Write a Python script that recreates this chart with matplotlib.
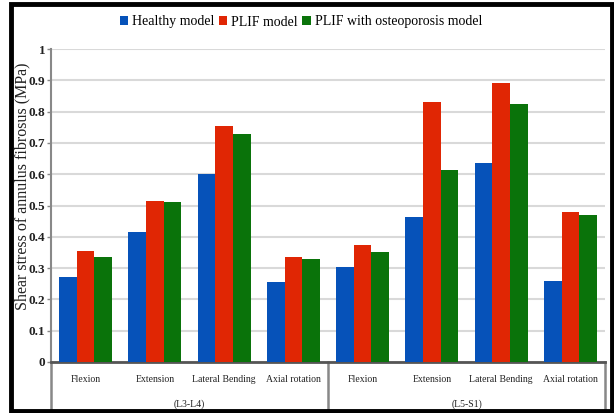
import matplotlib
matplotlib.use("Agg")
import matplotlib.pyplot as plt
from matplotlib.patches import Patch, Rectangle
import numpy as np

categories = ["Flexion", "Extension", "Lateral Bending", "Axial rotation",
              "Flexion", "Extension", "Lateral Bending", "Axial rotation"]
groups = ["(L3-L4)", "(L5-S1)"]
series_names = ["Healthy model", "PLIF model", "PLIF with osteoporosis model"]
healthy = [0.27, 0.415, 0.600, 0.255, 0.305, 0.462, 0.635, 0.260]
plif = [0.355, 0.515, 0.755, 0.335, 0.375, 0.830, 0.890, 0.478]
plif_osteo = [0.335, 0.510, 0.730, 0.328, 0.353, 0.615, 0.825, 0.470]
colors = ["#0652b9", "#e02604", "#0a730a"]
yticks = [0, 0.1, 0.2, 0.3, 0.4, 0.5, 0.6, 0.7, 0.8, 0.9, 1]
ytick_labels = ["0", "0.1", "0.2", "0.3", "0.4", "0.5", "0.6", "0.7", "0.8", "0.9", "1"]

plt.rcParams['font.family'] = ['Liberation Serif', 'DejaVu Serif']

W, H = 614, 413
fig = plt.figure(figsize=(W / 100, H / 100), dpi=100)
ax = fig.add_axes([51 / W, (H - 362) / H, (605 - 51) / W, (362 - 49) / H])

x = np.arange(len(categories))
bw = 0.256
for i, (vals, c) in enumerate(zip([healthy, plif, plif_osteo], colors)):
    ax.bar(x + (i - 1) * bw, vals, width=bw, color=c, edgecolor='none', zorder=3)

ax.set_xlim(-0.5, len(categories) - 0.5)
ax.set_ylim(0, 1)
ax.set_yticks(yticks)
ax.set_yticklabels(ytick_labels, fontsize=9.5, fontweight='bold', color='#222222')
ax.yaxis.grid(True, color='#d9d9d9', linewidth=1.5, zorder=0)
ax.set_xticks(x)
ax.set_xticklabels(categories, fontsize=7, color='#222222')
ax.tick_params(axis='x', length=0, pad=9)
ax.tick_params(axis='y', length=3, width=1, color='#888888', pad=1)

for s in ['top', 'right']:
    ax.spines[s].set_visible(False)
ax.spines['left'].set_color('#888888')
ax.spines['left'].set_linewidth(1.5)
ax.spines['bottom'].set_color('#555555')
ax.spines['bottom'].set_linewidth(2)

ax.set_ylabel("Shear stress of annulus fibrosus (MPa)", fontsize=11.5, color='#222222')
ax.yaxis.set_label_coords(-0.038, 0.562)

# separators and group labels
trans = ax.get_xaxis_transform()
for xs in [-0.5, 3.5, 7.5]:
    ax.plot([xs, xs], [0, -0.155], transform=trans, color='#888888', lw=1.8, clip_on=False)
for gi, g in enumerate(groups):
    ax.text(gi * 4 + 1.5, -0.135, g, transform=trans, ha='center', va='center',
            fontsize=7, color='#222222')

handles = [Patch(facecolor=c, edgecolor='none') for c in colors]
fig.legend(handles, series_names, loc='center', bbox_to_anchor=(301 / W, 1 - 22 / H),
           ncol=3, frameon=False, fontsize=10, handlelength=0.6, handleheight=0.6,
           handletextpad=0.3, columnspacing=0.3)

fig.patches.append(Rectangle((10.5 / W, 2 / H), (W - 13) / W, (H - 6) / H, transform=fig.transFigure,
                             fill=False, edgecolor='black', linewidth=3.5))

fig.savefig("out.png", dpi=100)
